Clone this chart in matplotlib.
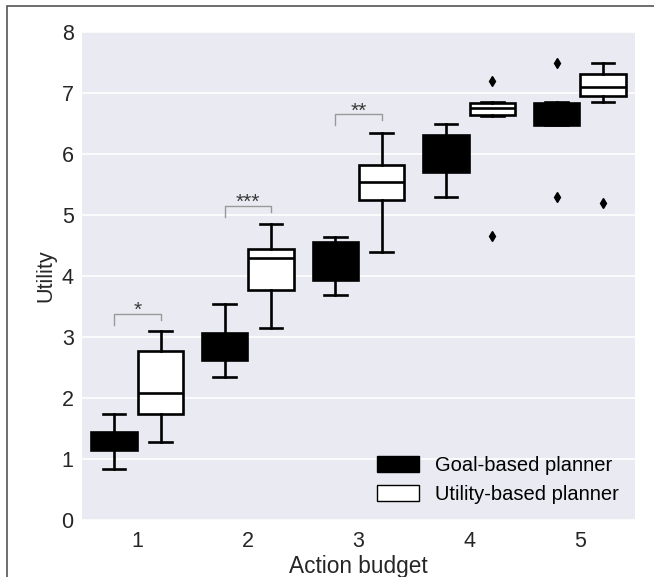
import numpy as np
import matplotlib.pyplot as plt
from matplotlib.patches import Patch, Rectangle

plt.rcParams['font.family'] = ['Liberation Sans', 'DejaVu Sans']

budgets = [1, 2, 3, 4, 5]

# box statistics: whisker low, q1, median, q3, whisker high
goal_whislo = [0.84, 2.34, 3.69, 5.30, 6.48]
goal_q1 = [1.15, 2.62, 3.93, 5.70, 6.48]
goal_med = [1.30, 2.85, 4.25, 6.00, 6.70]
goal_q3 = [1.44, 3.07, 4.56, 6.31, 6.84]
goal_whishi = [1.74, 3.54, 4.64, 6.49, 6.85]
goal_fliers = [[], [], [], [], [7.5, 5.3]]

util_whislo = [1.28, 3.15, 4.39, 6.62, 6.85]
util_q1 = [1.74, 3.77, 5.24, 6.64, 6.95]
util_med = [2.08, 4.30, 5.54, 6.75, 7.10]
util_q3 = [2.77, 4.45, 5.82, 6.84, 7.31]
util_whishi = [3.10, 4.85, 6.35, 6.86, 7.50]
util_fliers = [[], [], [], [7.2, 4.65], [5.2]]

# significance brackets
sig_budget = [1, 2, 3]
sig_height = [3.38, 5.15, 6.65]
sig_label = ['*', '***', '**']

def make_stats(lo, q1, med, q3, hi, fl):
    return [dict(whislo=a, q1=b, med=c, q3=d, whishi=e, fliers=f)
            for a, b, c, d, e, f in zip(lo, q1, med, q3, hi, fl)]

fig = plt.figure(figsize=(6.54, 5.77), dpi=100)
ax = fig.add_axes([0.1254, 0.0988, 0.8456, 0.8457])
ax.set_facecolor('#EAEAF2')
for s in ax.spines.values():
    s.set_visible(False)

x = np.array(budgets)
off = 0.21
w = 0.41
lw = 1.9

def draw(stats, pos, face, medc):
    ax.bxp(stats, positions=pos, widths=w, patch_artist=True,
           boxprops=dict(facecolor=face, edgecolor='black', linewidth=lw),
           whiskerprops=dict(color='black', linewidth=lw),
           capprops=dict(color='black', linewidth=lw),
           medianprops=dict(color=medc, linewidth=lw),
           flierprops=dict(marker='d', markerfacecolor='black',
                           markeredgecolor='black', markersize=5),
           zorder=3)

draw(make_stats(goal_whislo, goal_q1, goal_med, goal_q3, goal_whishi, goal_fliers),
     x - off, 'black', 'black')
draw(make_stats(util_whislo, util_q1, util_med, util_q3, util_whishi, util_fliers),
     x + off, 'white', 'black')

for b, h, lab in zip(sig_budget, sig_height, sig_label):
    ax.plot([b - off, b - off, b + off, b + off], [h - 0.18, h, h, h - 0.1],
            color='#999999', linewidth=1, zorder=3)
    ax.text(b, h - 0.1, lab, ha='center', va='bottom', fontsize=15,
            color='#3a3a3a')

ax.set_xlim(0.5, 5.5)
ax.set_ylim(0, 8)
ax.set_xticks(budgets)
ax.set_xticklabels([str(b) for b in budgets])
ax.set_yticks(range(0, 9))
ax.yaxis.grid(True, color='white', linewidth=1.2)
ax.set_axisbelow(True)
ax.tick_params(axis='y', length=0, labelsize=15.5, colors='#262626', pad=6)
ax.tick_params(axis='x', length=0, labelsize=15.5, colors='#262626', pad=8)
ax.set_xlabel('Action budget', fontsize=16.3, color='#262626', labelpad=2)
ax.set_ylabel('Utility', fontsize=15.5, color='#262626', labelpad=4)

handles = [Patch(facecolor='black', edgecolor='black', linewidth=1),
           Patch(facecolor='white', edgecolor='black', linewidth=1)]
ax.legend(handles, ['Goal-based planner', 'Utility-based planner'],
          loc='lower right', frameon=False, fontsize=14.5,
          handlelength=2.1, handleheight=0.8, handletextpad=0.8,
          labelspacing=0.5, borderaxespad=0.4)

# thin frame along the top and left of the figure
fig.patches.append(Rectangle((7 / 654, -0.1), 1.1, 1 - 6 / 577 + 0.1,
                             transform=fig.transFigure, fill=False,
                             edgecolor='#555555', linewidth=1.2))

fig.savefig('out.png', dpi=100)
